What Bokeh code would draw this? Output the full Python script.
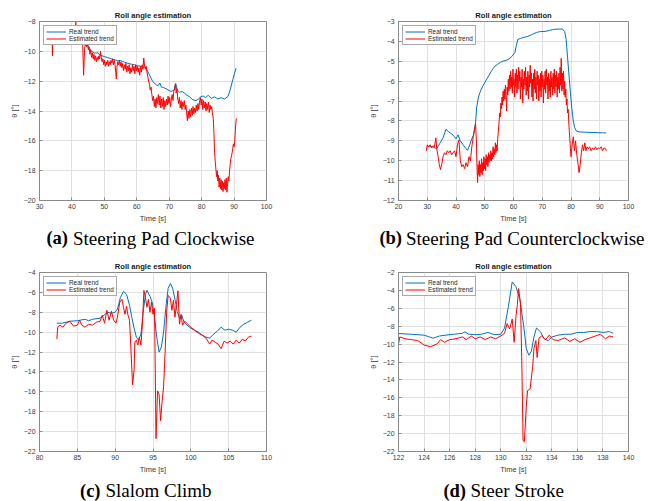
from bokeh.plotting import figure
from bokeh.models import Range1d, FixedTicker, Legend
from bokeh.core.properties import value
from bokeh.layouts import column, row
from bokeh.embed import file_html
from bokeh.resources import INLINE

# ---------------- data ----------------
# (a) Steering Pad Clockwise
a_real_t = [43.0, 43.9, 44.9, 45.9, 47.0, 48.0, 48.5, 49.3, 50.0, 51.0, 52.1, 53.0, 54.2, 55.0, 56.2,
            57.3, 58.3, 59.3, 60.3, 61.3, 62.4, 63.1, 63.9, 64.9, 66.0, 66.6, 67.1, 67.6, 68.2,
            69.6, 70.6, 71.5, 72.0, 72.5, 73.2, 74.0, 74.7, 75.5, 76.2, 77.3, 78.3, 79.0, 79.8,
            80.5, 81.2, 82.0, 83.0, 84.0, 85.0, 86.0, 87.0, 88.1, 88.8, 89.6, 90.6]
a_real_y = [-9.5, -9.56, -9.6, -9.97, -10.12, -10.1, -10.23, -10.3, -10.35, -10.42, -10.5, -10.55,
            -10.64, -10.62, -10.73, -10.8, -10.86, -10.9, -10.97, -11.0, -11.08, -11.24, -11.58,
            -12.02, -12.25, -12.3, -12.12, -12.4, -12.42, -12.58, -12.69, -12.6, -12.15, -12.6,
            -12.74, -12.7, -12.8, -12.95, -13.03, -13.25, -13.3, -13.2, -13.03, -13.0, -13.1,
            -12.95, -13.15, -13.05, -13.2, -13.1, -13.2, -13.03, -12.58, -11.9, -11.13]
a_est_t = [33.5, 33.9, 34.0, 34.1, 35.0, 36.5, 38.0, 39.5, 40.8, 41.2, 41.5, 42.5, 43.3, 43.6, 43.9,
           44.3, 44.55, 44.8, 45.05, 45.3, 45.55, 45.8, 46.05, 46.3, 46.55, 46.8, 47.05, 47.3,
           47.55, 47.8, 48.05, 48.3, 48.55, 48.8, 49.05, 49.3, 49.55, 49.8, 50.05, 50.3, 50.55,
           50.8, 51.05, 51.3, 51.55, 51.8, 52.05, 52.3, 52.55, 52.8, 53.05, 53.3, 53.5, 53.7, 53.9,
           54.15, 54.4, 54.65, 54.9, 55.15, 55.4, 55.65, 55.9, 56.15, 56.4, 56.65, 56.9, 57.15,
           57.4, 57.65, 57.9, 58.15, 58.4, 58.65, 58.9, 59.15, 59.4, 59.65, 59.9, 60.15, 60.4,
           60.65, 60.9, 61.15, 61.4, 61.65, 61.9, 62.15, 62.4, 62.65, 62.9, 63.15, 63.4, 63.65,
           63.9, 64.15, 64.4, 64.65, 64.9, 65.15, 65.4, 65.65, 65.9, 66.15, 66.4, 66.65, 66.9,
           67.15, 67.4, 67.65, 67.9, 68.15, 68.4, 68.65, 68.9, 69.15, 69.4, 69.65, 69.9, 70.15,
           70.4, 70.65, 70.9, 71.15, 71.4, 71.65, 71.9, 72.15, 72.4, 72.65, 72.9, 73.15, 73.4,
           73.65, 73.9, 74.15, 74.4, 74.65, 74.9, 75.15, 75.4, 75.6, 75.85, 76.1, 76.35, 76.6,
           76.85, 77.1, 77.35, 77.6, 77.85, 78.1, 78.35, 78.6, 78.85, 79.1, 79.35, 79.6, 79.85,
           80.1, 80.35, 80.6, 80.85, 81.1, 81.35, 81.6, 81.85, 82.1, 82.35, 82.6, 82.85, 83.1,
           83.35, 83.6, 83.8, 84.0, 84.2, 84.4, 84.6, 84.8, 85.0, 85.2, 85.4, 85.6, 85.8, 86.0,
           86.2, 86.4, 86.6, 86.8, 87.0, 87.2, 87.4, 87.6, 87.8, 88.0, 88.2, 88.4, 88.6, 88.8,
           89.0, 89.2, 89.4, 89.6, 89.8, 90.0, 90.2, 90.4, 90.55, 90.7]
a_est_y = [-9.2, -9.4, -10.3, -9.5, -9.2, -9.1, -9.3, -9.2, -9.0, -8.05, -9.1, -9.3, -9.4, -11.6, -9.8,
           -9.4, -9.7, -9.5, -9.9, -9.7, -10.2, -9.9, -10.4, -10.1, -10.5, -10.2, -10.6, -10.3,
           -10.7, -10.4, -10.6, -10.3, -10.5, -10.0, -10.4, -10.7, -10.5, -10.9, -10.6, -11.0,
           -10.7, -10.9, -10.6, -11.0, -10.7, -10.9, -10.6, -10.8, -10.5, -10.9, -10.6, -10.9,
           -11.4, -11.85, -11.0, -10.7, -10.9, -10.6, -11.0, -10.7, -11.1, -10.8, -11.3, -10.9,
           -11.2, -10.8, -11.4, -11.0, -11.3, -10.9, -11.5, -11.1, -11.4, -10.9, -11.3, -11.0,
           -11.5, -10.9, -11.3, -11.0, -11.4, -11.1, -11.6, -11.0, -11.4, -10.9, -11.2, -10.45,
           -11.0, -11.2, -11.0, -11.4, -11.7, -12.0, -12.2, -12.6, -12.4, -12.9, -13.3, -13.0,
           -13.7, -13.2, -13.8, -13.1, -13.5, -12.9, -13.6, -13.0, -13.8, -13.2, -13.7, -13.1,
           -13.9, -13.3, -13.7, -13.2, -13.6, -13.0, -13.5, -13.1, -13.7, -13.2, -12.9, -13.3,
           -12.7, -12.5, -12.2, -12.8, -12.5, -13.2, -13.5, -13.1, -13.8, -13.3, -13.9, -13.4,
           -13.7, -13.3, -13.9, -13.6, -14.2, -14.65, -14.0, -14.5, -13.9, -14.4, -13.8, -14.3,
           -13.7, -14.2, -13.8, -14.1, -13.6, -14.0, -13.5, -13.9, -13.4, -13.1, -13.6, -13.2,
           -13.9, -13.3, -13.8, -13.4, -14.0, -13.5, -13.9, -13.4, -14.1, -13.6, -13.9, -13.7,
           -14.2, -14.5, -15.5, -16.8, -17.4, -17.9, -18.4, -18.0, -18.7, -18.3, -19.1, -18.5,
           -19.2, -18.6, -19.3, -18.7, -19.4, -18.8, -19.2, -18.6, -19.3, -18.5, -19.45, -18.9,
           -18.4, -18.7, -18.0, -17.6, -17.2, -17.0, -16.8, -16.5, -16.2, -16.4, -16.0, -15.3,
           -14.8, -14.5]

# (b) Steering Pad Counterclockwise
b_real_t = [30.0, 32.0, 33.3, 34.5, 35.5, 36.5, 37.5, 38.5, 39.5, 40.0, 40.7, 41.5, 42.5, 43.5, 44.0,
            44.8, 45.5, 46.1, 46.8, 47.2, 47.8, 48.5, 49.5, 50.5, 51.5, 52.5, 53.5, 54.5, 55.5, 56.5,
            57.5, 58.5, 59.5, 60.5, 61.0, 61.5, 62.5, 63.5, 65.0, 66.5, 68.0, 69.5, 71.0, 72.5, 74.0,
            75.5, 77.0, 77.8, 78.3, 78.8, 79.3, 79.8, 80.3, 80.8, 81.3, 82.0, 83.0, 85.0, 88.0, 91.0, 92.2]
b_real_y = [-9.3, -9.3, -9.4, -9.1, -8.85, -8.42, -8.55, -8.65, -8.8, -8.9, -8.7, -9.0, -9.2, -9.4,
            -9.48, -9.2, -8.9, -8.7, -8.1, -7.3, -6.8, -6.5, -6.2, -5.95, -5.7, -5.45, -5.25, -5.15,
            -5.05, -4.98, -4.95, -4.88, -4.75, -4.55, -4.2, -3.9, -3.85, -3.8, -3.75, -3.65, -3.55,
            -3.5, -3.5, -3.45, -3.4, -3.38, -3.38, -3.5, -3.9, -4.8, -5.7, -6.6, -7.4, -8.0, -8.35,
            -8.53, -8.55, -8.57, -8.58, -8.6, -8.6]
b_est_t = [29.7, 30.0, 30.5, 31.0, 31.5, 32.0, 32.5, 33.0, 33.3, 33.8, 34.2, 34.6, 35.0, 35.5, 36.0,
           36.5, 37.0, 37.5, 38.0, 38.5, 39.0, 39.5, 40.0, 40.5, 41.0, 41.5, 42.0, 42.5, 43.0, 43.5,
           44.0, 44.5, 45.0, 45.5, 46.0, 46.5, 46.8, 47.1, 47.3, 47.5, 47.7, 47.9, 48.1, 48.3, 48.5,
           48.7, 48.9, 49.1, 49.3, 49.5, 49.7, 49.9, 50.1, 50.3, 50.5, 50.7, 50.9, 51.1, 51.3, 51.5,
           51.7, 51.9, 52.1, 52.3, 52.5, 52.7, 52.9, 53.1, 53.3, 53.5, 53.7, 53.9, 54.1, 54.3, 54.5,
           54.7, 55.0, 55.2, 55.4, 55.6, 55.8, 56.0, 56.2, 56.4, 56.6, 56.8, 57.0, 57.2, 57.4, 57.6,
           57.8, 58.0, 58.2, 58.4, 58.6, 58.8, 59.0, 59.2, 59.4, 59.6, 59.8, 60.0, 60.2, 60.4, 60.6,
           60.8, 61.0, 61.2, 61.4, 61.6, 61.8, 62.0, 62.2, 62.4, 62.6, 62.8, 63.0, 63.2, 63.4, 63.6,
           63.8, 64.0, 64.2, 64.4, 64.6, 64.8, 65.0, 65.2, 65.4, 65.6, 65.8, 66.0, 66.2, 66.4, 66.6,
           66.8, 67.0, 67.2, 67.4, 67.6, 67.8, 68.0, 68.2, 68.4, 68.6, 68.8, 69.0, 69.2, 69.4, 69.6,
           69.8, 70.0, 70.2, 70.4, 70.6, 70.8, 71.0, 71.2, 71.4, 71.6, 71.8, 72.0, 72.2, 72.4, 72.6,
           72.8, 73.0, 73.2, 73.4, 73.6, 73.8, 74.0, 74.2, 74.4, 74.6, 74.8, 75.0, 75.2, 75.4, 75.6,
           75.8, 76.0, 76.2, 76.4, 76.6, 76.8, 77.0, 77.2, 77.4, 77.6, 77.8, 78.0, 78.2, 78.4, 78.6,
           78.8, 79.0, 79.2, 79.4, 79.6, 79.8, 80.0, 80.4, 80.8, 81.2, 81.6, 82.0, 82.4, 82.8, 83.2,
           83.6, 84.0, 84.4, 84.8, 85.2, 85.6, 86.0, 86.5, 87.0, 87.5, 88.0, 88.5, 89.0, 89.5, 90.0,
           90.5, 91.0, 91.5, 92.0, 92.3]
b_est_y = [-9.5, -9.2, -9.3, -9.2, -9.35, -9.25, -9.3, -8.85, -9.4, -9.8, -10.2, -10.45, -10.2, -9.8,
           -9.6, -9.7, -9.5, -9.6, -9.5, -9.7, -9.6, -9.5, -9.8, -9.2, -8.95, -10.0, -10.3, -10.2,
           -10.4, -10.1, -10.3, -9.8, -10.0, -9.3, -8.8, -8.4, -8.16, -9.0, -10.3, -11.1, -10.2,
           -10.7, -10.0, -10.8, -10.2, -10.6, -9.9, -10.7, -10.1, -10.5, -9.8, -10.4, -9.9, -10.5,
           -9.7, -10.2, -9.8, -10.3, -9.6, -10.1, -9.7, -10.0, -9.5, -10.0, -9.6, -9.9, -9.3, -9.8,
           -9.4, -9.7, -9.1, -9.6, -9.2, -9.5, -8.9, -8.6, -8.0, -7.6, -7.8, -7.1, -7.4, -6.8, -7.2,
           -6.5, -7.0, -6.4, -6.9, -6.2, -6.8, -7.5, -6.3, -6.7, -5.9, -6.5, -5.7, -6.4, -5.5, -6.3,
           -5.8, -6.6, -5.4, -6.2, -5.9, -6.8, -5.6, -6.3, -5.4, -6.6, -5.7, -6.4, -5.3, -6.0, -5.5,
           -6.9, -5.8, -6.3, -5.4, -7.1, -5.9, -6.4, -5.5, -6.2, -5.3, -6.7, -5.8, -6.5, -5.5, -6.9,
           -5.7, -6.3, -5.2, -6.1, -5.6, -6.8, -5.9, -7.0, -5.6, -6.4, -5.4, -6.6, -5.8, -6.9, -5.5,
           -6.2, -5.7, -7.0, -5.9, -6.5, -5.6, -6.8, -5.5, -6.3, -5.7, -7.1, -5.9, -6.4, -5.5, -6.6,
           -5.4, -6.2, -5.8, -6.9, -5.6, -6.5, -5.9, -6.8, -5.5, -6.3, -5.8, -6.7, -5.6, -6.4, -5.4,
           -6.6, -5.7, -6.3, -5.5, -6.8, -5.8, -6.4, -5.6, -6.6, -5.3, -6.2, -4.85, -6.5, -5.6, -6.4,
           -5.5, -6.7, -6.0, -6.8, -6.4, -7.2, -6.9, -7.6, -7.4, -8.0, -8.5, -8.9, -9.4, -9.8, -9.2,
           -8.8, -9.5, -9.0, -9.7, -10.1, -10.6, -10.2, -9.6, -9.2, -9.5, -9.1, -9.5, -9.3, -9.4,
           -9.3, -9.5, -9.35, -9.45, -9.3, -9.45, -9.35, -9.4, -9.3, -9.5, -9.35, -9.4, -9.5]

# (c) Slalom Climb
c_real_t = [82.3, 83.0, 84.0, 85.0, 86.0, 86.5, 87.0, 88.0, 88.5, 89.0, 89.5, 90.0, 90.3, 90.7, 91.1,
            91.5, 91.9, 92.2, 92.5, 92.8, 93.1, 93.4, 93.7, 94.0, 94.2, 94.6, 94.9, 95.2, 95.5, 95.8,
            96.1, 96.4, 96.7, 97.0, 97.3, 97.6, 97.9, 98.2, 98.5, 98.8, 99.1, 99.5, 100.0, 100.5,
            101.0, 101.5, 102.0, 102.5, 103.0, 103.5, 104.0, 104.5, 105.0, 105.5, 106.0, 106.5,
            107.0, 107.5, 108.0]
c_real_y = [-9.1, -9.1, -8.9, -8.85, -8.7, -8.85, -8.7, -8.6, -8.3, -8.0, -8.1, -8.0, -7.7, -6.5,
            -5.9, -6.2, -7.3, -8.5, -9.6, -10.5, -10.8, -10.2, -8.0, -6.2, -5.8, -6.4, -7.0, -8.5,
            -10.5, -12.0, -11.5, -10.0, -7.5, -5.6, -5.1, -5.6, -6.7, -7.9, -8.6, -8.3, -9.0, -9.3,
            -9.6, -9.8, -10.0, -10.3, -10.5, -10.6, -10.2, -9.9, -9.5, -9.8, -9.7, -9.8, -10.0,
            -9.5, -9.2, -9.0, -8.8]
c_est_t = [82.3, 82.4, 82.7, 83.1, 83.5, 84.0, 84.5, 85.0, 85.3, 85.6, 86.0, 86.5, 87.0, 87.5, 88.0,
           88.3, 88.6, 88.9, 89.2, 89.5, 89.8, 90.1, 90.3, 90.6, 90.9, 91.1, 91.3, 91.5, 91.7, 91.9,
           92.1, 92.3, 92.5, 92.6, 92.8, 93.0, 93.2, 93.4, 93.6, 93.8, 94.0, 94.2, 94.4, 94.6, 94.8,
           95.0, 95.2, 95.3, 95.4, 95.6, 95.8, 96.0, 96.2, 96.4, 96.6, 96.8, 97.0, 97.3, 97.5, 97.7,
           97.9, 98.1, 98.3, 98.5, 98.7, 98.9, 99.2, 99.6, 100.0, 100.5, 101.0, 101.5, 102.0, 102.5,
           102.8, 103.2, 103.6, 104.0, 104.4, 104.8, 105.2, 105.6, 106.0, 106.4, 106.8, 107.2,
           107.6, 108.0]
c_est_y = [-10.7, -9.5, -9.3, -9.5, -9.1, -8.9, -9.4, -9.3, -8.8, -9.3, -9.5, -9.2, -9.3, -9.0, -8.9,
           -8.3, -9.1, -7.8, -8.8, -7.9, -8.8, -9.1, -8.5, -7.0, -6.7, -7.5, -8.2, -7.4, -8.3, -8.8,
           -12.0, -15.3, -13.8, -11.0, -10.8, -11.3, -10.5, -11.3, -9.2, -5.8, -6.5, -7.5, -6.7,
           -8.0, -7.0, -8.2, -7.6, -14.0, -20.7, -15.9, -16.2, -18.9, -17.0, -15.5, -12.0, -8.0,
           -6.3, -6.6, -7.8, -6.8, -8.5, -7.2, -5.85, -9.2, -8.2, -9.3, -8.9, -9.2, -9.5, -9.8,
           -10.1, -10.3, -10.6, -11.2, -10.8, -11.0, -11.2, -11.65, -10.9, -11.1, -10.9, -11.2,
           -10.8, -11.1, -10.7, -10.9, -10.5, -10.4]

# (d) Steer Stroke
d_real_t = [122.0, 123.0, 124.0, 124.7, 125.2, 125.7, 126.3, 127.0, 127.2, 127.5, 128.0, 128.5, 129.0,
            129.5, 130.0, 130.3, 130.6, 130.9, 131.2, 131.5, 131.8, 132.0, 132.2, 132.4, 132.6,
            132.8, 133.1, 133.4, 133.7, 134.0, 134.5, 135.0, 135.5, 136.0, 136.5, 137.0, 137.5,
            138.0, 138.5, 138.8]
d_real_y = [-8.82, -8.9, -9.0, -9.34, -9.1, -9.0, -8.9, -8.8, -8.63, -8.9, -8.95, -8.9, -8.7, -8.95,
            -8.9, -8.2, -5.8, -3.05, -3.6, -5.0, -8.0, -10.5, -11.24, -10.8, -9.2, -8.2, -8.6,
            -9.4, -9.63, -9.2, -9.0, -8.9, -8.9, -8.7, -8.7, -8.6, -8.6, -8.7, -8.6, -8.8]
d_est_t = [122.0, 122.1, 122.5, 123.0, 123.5, 124.0, 124.5, 125.0, 125.3, 125.6, 126.0, 126.5, 127.0,
           127.3, 127.7, 128.0, 128.4, 128.8, 129.2, 129.6, 130.0, 130.3, 130.5, 130.7, 130.9,
           131.05, 131.2, 131.3, 131.4, 131.55, 131.65, 131.75, 131.85, 132.0, 132.1, 132.3,
           132.5, 132.6, 132.75, 132.85, 133.0, 133.2, 133.5, 133.8, 134.1, 134.5, 135.0, 135.4,
           135.8, 136.2, 136.6, 137.0, 137.4, 137.8, 138.2, 138.5, 138.8]
d_est_y = [-10.0, -9.2, -9.4, -9.5, -9.6, -10.1, -10.3, -10.0, -9.5, -9.8, -9.5, -9.4, -9.2, -9.5,
           -9.1, -9.4, -9.2, -9.5, -9.2, -9.4, -9.1, -8.8, -7.7, -8.3, -7.2, -9.8, -6.8, -5.6, -3.8,
           -5.5, -12.0, -20.8, -20.9, -17.0, -15.2, -15.0, -12.5, -10.5, -9.6, -11.5, -9.3, -9.1,
           -9.5, -9.0, -9.5, -9.6, -9.3, -9.7, -9.4, -9.8, -9.5, -9.3, -9.1, -8.9, -9.4, -9.1, -9.2]

a_xticks = [30, 40, 50, 60, 70, 80, 90, 100]
a_yticks = [-20, -18, -16, -14, -12, -10, -8]
b_xticks = [20, 30, 40, 50, 60, 70, 80, 90, 100]
b_yticks = [-12, -11, -10, -9, -8, -7, -6, -5, -4, -3]
c_xticks = [80, 85, 90, 95, 100, 105, 110]
c_yticks = [-22, -20, -18, -16, -14, -12, -10, -8, -6, -4]
d_xticks = [122, 124, 126, 128, 130, 132, 134, 136, 138, 140]
d_yticks = [-22, -20, -18, -16, -14, -12, -10, -8, -6, -4, -2]

TITLE = "Roll angle estimation"
XLABEL = "Time [s]"
YLABEL = "θ [°]"
LEG = ["Real trend", "Estimated trend"]
cap_tags = ["(a)", "(b)", "(c)", "(d)"]
cap_texts = ["Steering Pad Clockwise", "Steering Pad Counterclockwise", "Slalom Climb", "Steer Stroke"]

BLUE = "#0072BD"
RED = "#FF0000"
TXT = "#3a3a3a"
EDGE = "#8a8a8a"
GRID = "#e0e0e0"
SANS = "Liberation Sans"
SERIF = "Liberation Serif"


def panel(rt, ry, et, ey, xr, yr, xt, yt, height, left, right, top, bottom):
    p = figure(width=327, height=height, x_range=Range1d(*xr), y_range=Range1d(*yr),
               output_backend="svg", toolbar_location=None,
               min_border_left=left, min_border_right=right,
               min_border_top=top, min_border_bottom=bottom)
    p.title.text = TITLE
    p.title.align = "center"
    p.title.text_font = SANS
    p.title.text_font_size = "7.6px"
    p.title.text_font_style = "bold"
    p.title.text_color = "#1a1a1a"
    p.title.standoff = 3
    p.title.offset = 0
    p.outline_line_color = EDGE
    p.outline_line_width = 1
    p.background_fill_color = "white"
    p.border_fill_color = "white"
    for ax, ticks in ((p.xaxis[0], xt), (p.yaxis[0], yt)):
        ax.ticker = FixedTicker(ticks=ticks)
        ax.minor_tick_line_color = None
        ax.major_tick_in = 3
        ax.major_tick_out = 0
        ax.major_tick_line_color = EDGE
        ax.axis_line_color = EDGE
        ax.major_label_text_font = SANS
        ax.major_label_text_font_size = "6.9px"
        ax.major_label_text_color = TXT
        ax.axis_label_text_font = SANS
        ax.axis_label_text_font_size = "7.5px"
        ax.axis_label_text_font_style = "normal"
        ax.axis_label_text_color = TXT
    p.xaxis.axis_label = XLABEL
    p.yaxis.axis_label = YLABEL
    p.xaxis.major_label_standoff = 3
    p.xaxis.axis_label_standoff = 2
    p.yaxis.major_label_standoff = 4
    p.yaxis.axis_label_standoff = 2
    p.grid.grid_line_color = GRID
    p.grid.grid_line_width = 1
    r1 = p.line(rt, ry, line_color=BLUE, line_width=1)
    r2 = p.line(et, ey, line_color=RED, line_width=1)
    leg = Legend(items=[(LEG[0], [r1]), (LEG[1], [r2])], location="top_left")
    leg.margin = 4
    leg.padding = 2
    leg.spacing = 0
    leg.label_height = 7
    leg.glyph_height = 7
    leg.glyph_width = 20
    leg.label_standoff = 3
    leg.label_text_font = SANS
    leg.label_text_font_size = "6.4px"
    leg.label_text_color = "#262626"
    leg.border_line_color = "#555555"
    leg.border_line_width = 0.7
    leg.background_fill_alpha = 1.0
    p.add_layout(leg, "center")
    return p


def caption_strip(height, mid_y, items):
    # items: (index, right end of tag, x of text); strip data units equal pixels
    p = figure(width=654, height=height, x_range=Range1d(0, 654), y_range=Range1d(0, height),
               output_backend="svg", toolbar_location=None, x_axis_type=None, y_axis_type=None,
               min_border=0, min_border_left=0, min_border_right=0, min_border_top=0,
               min_border_bottom=0)
    p.outline_line_color = None
    p.grid.visible = False
    p.background_fill_color = "white"
    p.border_fill_color = "white"
    for k, tx, bx in items:
        p.text(x=[tx], y=[mid_y], text=[cap_tags[k]], text_font=value(SERIF),
               text_font_size=value("18.5px"), text_font_style="bold", text_color="black",
               text_align="right", text_baseline="middle")
        p.text(x=[bx], y=[mid_y], text=[cap_texts[k]], text_font=value(SERIF),
               text_font_size=value("19px"), text_font_style="normal", text_color="black",
               text_align="left", text_baseline="middle")
    return p


fa = panel(a_real_t, a_real_y, a_est_t, a_est_y, (30, 100), (-20, -8), a_xticks, a_yticks,
           228, 39, 61, 21, 28)
fb = panel(b_real_t, b_real_y, b_est_t, b_est_y, (20, 100), (-12, -3), b_xticks, b_yticks,
           228, 71, 26, 21, 28)
fc = panel(c_real_t, c_real_y, c_est_t, c_est_y, (80, 110), (-22, -4), c_xticks, c_yticks,
           228, 39, 61, 22, 27)
fd = panel(d_real_t, d_real_y, d_est_t, d_est_y, (122, 140), (-22, -2), d_xticks, d_yticks,
           228, 71, 26, 22, 27)

cap1 = caption_strip(22, 12.2, [(0, 67.5, 72.5), (1, 401.5, 405.5)])
cap2 = caption_strip(23, 10.8, [(2, 100.0, 105.0), (3, 465.5, 470.0)])

layout = column(row(fa, fb), cap1, row(fc, fd), cap2)

open("out.html", "w").write(file_html(layout, INLINE))
